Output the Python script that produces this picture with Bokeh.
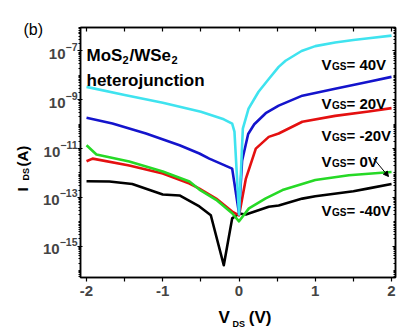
import math
from bokeh.plotting import figure
from bokeh.models import (FixedTicker, CustomJSTickFormatter, LinearAxis, LogAxis,
                          Label, Arrow, NormalHead, LogTickFormatter)
from bokeh.embed import file_html
from bokeh.resources import INLINE

# ---------------- data (V_DS in volts, log10 of I_DS in amperes) ----------------
vgs40_v   = [-2.0, -1.5, -1.0, -0.5, -0.2, -0.09, -0.06, -0.03, 0.0, 0.03, 0.05, 0.125, 0.256, 0.39, 0.52, 0.61, 0.82, 1.0, 1.26, 1.5, 1.7, 2.0]
vgs40_log = [-8.47, -8.80, -9.12, -9.49, -9.80, -9.98, -10.3, -12.0, -13.7, -11.6, -10.18, -9.36, -8.67, -8.15, -7.65, -7.40, -7.00, -6.80, -6.65, -6.55, -6.48, -6.37]

vgs20_v   = [-2.0, -1.66, -1.22, -0.78, -0.52, -0.39, -0.09, 0.0, 0.04, 0.12, 0.2, 0.35, 0.52, 0.83, 1.26, 1.7, 2.0]
vgs20_log = [-9.74, -9.97, -10.38, -10.86, -11.20, -11.41, -11.82, -13.66, -11.5, -10.4, -10.0, -9.55, -9.24, -8.83, -8.55, -8.26, -8.06]

vgsm20_v   = [-2.0, -1.92, -1.44, -1.0, -0.65, -0.52, -0.3, -0.09, 0.0, 0.09, 0.22, 0.39, 0.52, 0.83, 1.26, 1.7, 2.0]
vgsm20_log = [-11.52, -11.41, -11.69, -12.02, -12.43, -12.64, -13.05, -13.58, -13.74, -12.23, -11.0, -10.52, -10.38, -9.90, -9.66, -9.48, -9.34]

vgs0_v   = [-2.0, -1.87, -1.44, -1.0, -0.65, -0.52, -0.3, -0.09, 0.0, 0.13, 0.35, 0.57, 1.0, 1.44, 2.0]
vgs0_log = [-10.86, -11.24, -11.53, -11.94, -12.35, -12.68, -13.10, -13.65, -13.98, -13.45, -13.04, -12.70, -12.29, -12.09, -11.96]

vgsm40_v   = [-2.0, -1.7, -1.4, -1.0, -0.78, -0.52, -0.37, -0.2, -0.09, 0.0, 0.09, 0.39, 0.52, 0.83, 1.0, 1.5, 1.7, 2.0]
vgsm40_log = [-12.34, -12.35, -12.45, -12.88, -12.92, -13.37, -13.73, -15.78, -13.86, -13.66, -13.70, -13.38, -13.33, -13.05, -12.95, -12.75, -12.63, -12.45]

x_ticks = [-2.0, -1.5, -1.0, -0.5, 0.0, 0.5, 1.0, 1.5, 2.0]
y_major_exp = [-15, -13, -11, -9, -7]

# ---------------- figure ----------------
FONT = "Liberation Sans"
NB = "\u00a0"
p = figure(frame_width=315, frame_height=250, x_range=(-2.079, 2.052),
           y_range=(10 ** -16.283, 10 ** -6.037), y_axis_type="log",
           output_backend="svg", toolbar_location=None,
           min_border_left=80, min_border_right=2, min_border_top=27, min_border_bottom=52)
p.grid.visible = False
p.outline_line_color = "black"
p.outline_line_width = 1.5
p.background_fill_color = "white"
p.border_fill_color = "white"

xt = FixedTicker(ticks=x_ticks)
xfmt = CustomJSTickFormatter(code="return Number.isInteger(tick) ? tick.toFixed(0) : '';")
blank = CustomJSTickFormatter(code="return '';")
minor_y = [k * 10.0 ** n for n in range(-17, -5) for k in range(1, 10)
           if not (k == 1 and n in y_major_exp)]
yt = FixedTicker(ticks=[10.0 ** e for e in y_major_exp], minor_ticks=minor_y)

for ax in p.xaxis:
    ax.ticker = xt
    ax.formatter = xfmt
    ax.major_label_text_font = FONT
    ax.major_label_text_font_style = "bold"
    ax.major_label_text_font_size = "15px"
    ax.major_tick_in = 0
    ax.major_tick_out = 4
    ax.minor_tick_line_color = None
    ax.axis_line_width = 1.5
    ax.major_tick_line_width = 1.2
    ax.major_label_standoff = 4

for ax in p.yaxis:
    ax.ticker = yt
    ax.formatter = LogTickFormatter()
    ax.major_label_text_font = FONT
    ax.major_label_text_font_style = "bold"
    ax.major_label_text_font_size = "15px"
    ax.major_tick_in = 2
    ax.major_tick_out = 3
    ax.minor_tick_in = 0
    ax.minor_tick_out = 2
    ax.axis_line_width = 1.5
    ax.major_tick_line_width = 1.2
    ax.major_label_standoff = 0

top = LinearAxis(ticker=xt, formatter=blank, major_label_text_font_size="1px",
                 major_label_standoff=0, major_tick_in=4, major_tick_out=0,
                 minor_tick_line_color=None, axis_line_width=1.5, major_tick_line_width=1.2)
p.add_layout(top, "above")
right = LogAxis(ticker=yt, formatter=blank, major_label_text_font_size="1px",
                major_label_standoff=0, major_tick_in=3, major_tick_out=0,
                minor_tick_in=2, minor_tick_out=0, axis_line_width=1.5)
p.add_layout(right, "right")

def curve(vs, logs, color):
    p.line(vs, [10.0 ** e for e in logs], line_color=color, line_width=2.6, line_join="round")

curve(vgsm40_v, vgsm40_log, "black")
curve(vgsm20_v, vgsm20_log, "#e41010")
curve(vgs0_v, vgs0_log, "#26d926")
curve(vgs20_v, vgs20_log, "#1414cc")
curve(vgs40_v, vgs40_log, "#3fe3ef")

def lab(txt, sx, sy, size, bold=True, angle=0.0, baseline="alphabetic", align="left", side="center"):
    p.add_layout(Label(text=txt, x=sx, y=sy, x_units="screen", y_units="screen",
                       text_font=FONT, text_font_style="bold" if bold else "normal",
                       text_font_size=f"{size}px", text_color="black", angle=angle,
                       text_baseline=baseline, text_align=align), side)

# material text (inside the frame)
lab("MoS", 6, 222, 17)
lab("2", 42, 218, 11)
lab("/WSe", 49, 222, 17)
lab("2", 91, 218, 11)
lab("heterojunction", 6, 197, 17)

# V_GS annotations
def vgs(val, sy):
    lab("V", 241, sy, 15)
    lab("GS", 251.5, sy - 2, 10)
    lab("= " + val, 266, sy, 15)

vgs("40V", 213)
vgs("20V", 174)
vgs("-20V", 142)
vgs("0V", 116)
vgs("-40V", 67)

p.add_layout(Arrow(x_start=293, y_start=119, x_end=308, y_end=101,
                   start_units="screen", end_units="screen",
                   line_width=1, line_color="black",
                   end=NormalHead(size=5, fill_color="black", line_color="black")))

# texts outside the frame live in the side panels (not clipped there)
lab("(b)", -57, -2, 16, bold=False, baseline="middle", side="above")
lab("V" + NB * 4 + "(V)", 138, 0, 17, side="below")
lab("I" + NB * 5 + "(A)", -1, 86, 15, angle=math.pi / 2, side="left")
lab("DS", 12, 97, 9, angle=math.pi / 2, side="left")
lab("DS", 232, -46, 9, side="left")

open("out.html", "w").write(file_html(p, INLINE))
